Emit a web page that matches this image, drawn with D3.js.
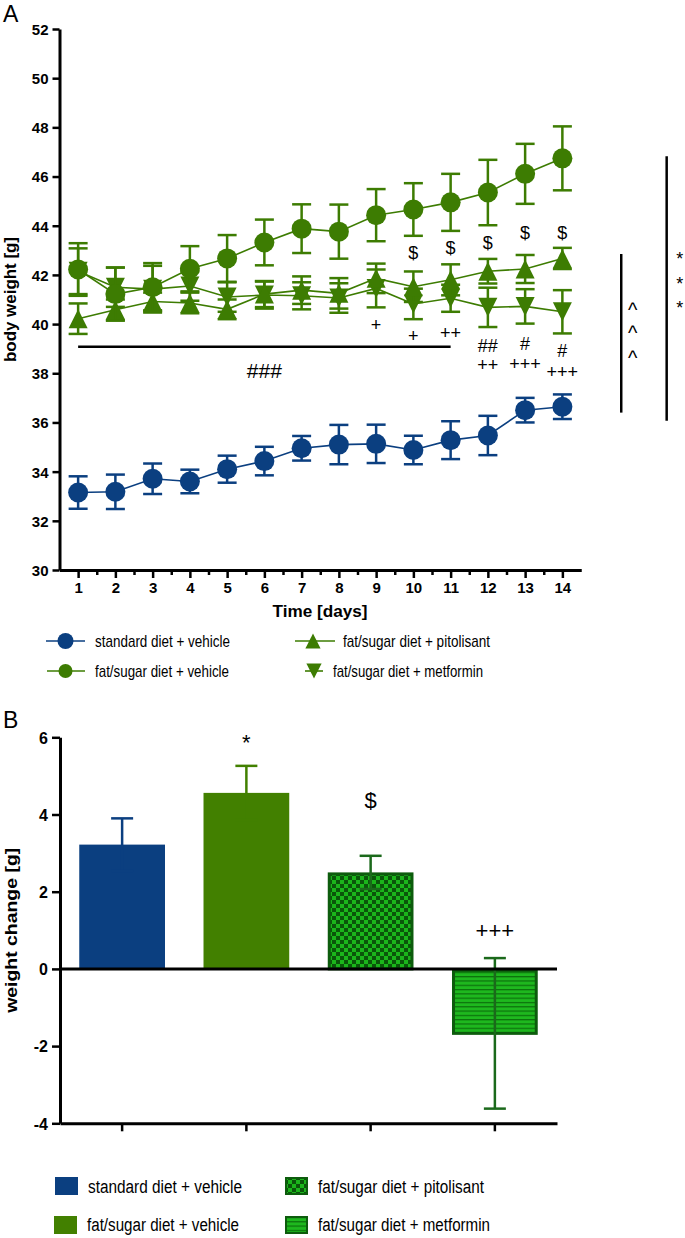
<!DOCTYPE html>
<html>
<head>
<meta charset="utf-8">
<script src="https://cdn.jsdelivr.net/npm/d3@7"></script>
<style>
  body { margin: 0; background: #fff; }
  svg { display: block; }
  text { font-family: "Liberation Sans", Arial, sans-serif; }
</style>
</head>
<body>
<svg id="chart" width="685" height="1238"></svg>
<script>
// ---- data, panel A (body weight, g) ----
const days = [1, 2, 3, 4, 5, 6, 7, 8, 9, 10, 11, 12, 13, 14];
const halfDays = [1.5, 2.5, 3.5, 4.5, 5.5, 6.5, 7.5, 8.5, 9.5, 10.5, 11.5, 12.5, 13.5];
const weightTicks = [30, 32, 34, 36, 38, 40, 42, 44, 46, 48, 50, 52];

const stdMean = [33.15, 33.18, 33.71, 33.6, 34.1, 34.43, 34.95, 35.1, 35.13, 34.88, 35.28, 35.47, 36.5, 36.64];
const stdErr  = [0.66, 0.7, 0.62, 0.48, 0.55, 0.58, 0.5, 0.8, 0.78, 0.58, 0.77, 0.8, 0.5, 0.5];
const fsMean  = [42.22, 41.22, 41.5, 42.25, 42.67, 43.32, 43.88, 43.76, 44.43, 44.66, 44.95, 45.35, 46.11, 46.74];
const fsErr   = [1.07, 1.08, 0.98, 0.92, 0.95, 0.93, 0.99, 1.1, 1.06, 1.07, 1.16, 1.33, 1.22, 1.3];
const pitMean = [40.22, 40.58, 40.92, 40.86, 40.6, 41.22, 41.38, 41.25, 41.86, 41.52, 41.8, 42.15, 42.24, 42.67];
const pitErr  = [0.62, 0.42, 0.36, 0.42, 0.4, 0.53, 0.56, 0.62, 0.6, 0.62, 0.63, 0.5, 0.57, 0.43];
const metMean = [42.15, 41.5, 41.42, 41.55, 41.1, 41.18, 41.15, 41.06, 41.45, 40.82, 41.05, 40.68, 40.72, 40.5];
const metErr  = [0.93, 0.8, 0.95, 0.6, 0.6, 0.55, 0.55, 0.6, 0.77, 0.62, 0.55, 0.8, 0.7, 0.88];

// significance marks in panel A: day, value position, symbol
const sigA = [
  {day: 9, v: 39.96, t: "+"},
  {day: 10, v: 42.89, t: "$"}, {day: 10, v: 39.51, t: "+"},
  {day: 11, v: 43.09, t: "$"}, {day: 11, v: 39.63, t: "++"},
  {day: 12, v: 43.29, t: "$"}, {day: 12, v: 39.1, t: "##"}, {day: 12, v: 38.33, t: "++"},
  {day: 13, v: 43.7, t: "$"}, {day: 13, v: 39.18, t: "#"}, {day: 13, v: 38.38, t: "+++"},
  {day: 14, v: 43.7, t: "$"}, {day: 14, v: 38.9, t: "#"}, {day: 14, v: 38.05, t: "+++"}
];

// ---- data, panel B (weight change, g) ----
const groups = ["standard diet + vehicle", "fat/sugar diet + vehicle",
                "fat/sugar diet + pitolisant", "fat/sugar diet + metformin"];
const changeMean = [3.22, 4.56, 2.5, -1.67];
const changeErr  = [0.68, 0.7, 0.43, 1.95];
const changeSig  = ["", "*", "$", "+++"];
const changeSigPos = [0, 5.93, 4.37, 1.0];
const changeTicks = [-4, -2, 0, 2, 4, 6];

const BLUE = "#0b3f80", GREEN = "#3d7c02", BARGREEN = "#428000";
const DKGREEN = "#0d5c0d", LTGREEN = "#1bb51b";

const svg = d3.select("#chart");

// patterns
const defs = svg.append("defs");
const chk = defs.append("pattern").attr("id", "checker")
  .attr("patternUnits", "userSpaceOnUse").attr("width", 8).attr("height", 8);
chk.append("rect").attr("width", 8).attr("height", 8).attr("fill", LTGREEN);
chk.append("rect").attr("width", 4).attr("height", 4).attr("fill", "#0a560a");
chk.append("rect").attr("x", 4).attr("y", 4).attr("width", 4).attr("height", 4).attr("fill", "#0a560a");
const stp = defs.append("pattern").attr("id", "stripes")
  .attr("patternUnits", "userSpaceOnUse").attr("width", 8).attr("height", 4.3);
stp.append("rect").attr("width", 8).attr("height", 4.3).attr("fill", "#1eb81e");
stp.append("rect").attr("width", 8).attr("height", 1.2).attr("fill", "#0c700c");

// ================= panel A =================
const x = d3.scaleLinear().domain([0.5, 14.5]).range([59.5, 581]);
const y = d3.scaleLinear().domain([30, 52]).range([570, 29]);

svg.append("text").attr("x", 3).attr("y", 22).attr("font-size", 23).text("A");

function styleAxis(g) {
  g.select(".domain").attr("stroke", "#000").attr("stroke-width", 3);
  g.selectAll(".tick line").attr("stroke", "#000").attr("stroke-width", 2.5);
  g.selectAll(".tick text").attr("font-family", "Liberation Sans, Arial, sans-serif")
    .attr("font-size", 15).attr("font-weight", "bold").attr("fill", "#000");
}

svg.append("g").attr("transform", "translate(0,570)")
  .call(d3.axisBottom(x).tickValues(halfDays).tickSize(5).tickSizeOuter(0).tickFormat(""))
  .call(styleAxis);
svg.append("g").attr("transform", "translate(0,570)")
  .call(d3.axisBottom(x).tickValues(days).tickSize(8).tickSizeOuter(0).tickPadding(4))
  .call(styleAxis);
svg.append("g").attr("transform", "translate(59.5,0)")
  .call(d3.axisLeft(y).tickValues(weightTicks).tickSize(7).tickSizeOuter(0).tickPadding(4))
  .call(styleAxis)
  .selectAll(".tick text").attr("dy", "0.36em");

svg.append("text").attr("x", 320).attr("y", 617).attr("text-anchor", "middle")
  .attr("font-size", 17).attr("font-weight", "bold").attr("textLength", 95)
  .attr("lengthAdjust", "spacingAndGlyphs").text("Time [days]");
svg.append("text").attr("transform", "translate(16," + y(41) + ") rotate(-90)")
  .attr("text-anchor", "middle").attr("font-size", 16).attr("font-weight", "bold")
  .attr("textLength", 125).attr("lengthAdjust", "spacingAndGlyphs").text("body weight [g]");

const triUp = "M0,-9.5L9.5,9.5L-9.5,9.5Z";
const triDown = "M0,9.5L9.5,-9.5L-9.5,-9.5Z";

function drawSeries(mean, err, color, shape) {
  const g = svg.append("g");
  const pts = days.map((d, i) => ({d: d, m: mean[i], e: err[i]}));
  g.append("path").datum(pts)
    .attr("fill", "none").attr("stroke", color).attr("stroke-width", 1.6)
    .attr("d", d3.line().x(p => x(p.d)).y(p => y(p.m)));
  const eb = g.selectAll(".eb").data(pts).enter().append("g")
    .attr("stroke", color).attr("stroke-width", 2.5);
  eb.append("line").attr("x1", p => x(p.d)).attr("x2", p => x(p.d))
    .attr("y1", p => y(p.m + p.e)).attr("y2", p => y(p.m - p.e));
  eb.append("line").attr("x1", p => x(p.d) - 9.5).attr("x2", p => x(p.d) + 9.5)
    .attr("y1", p => y(p.m + p.e)).attr("y2", p => y(p.m + p.e));
  eb.append("line").attr("x1", p => x(p.d) - 9.5).attr("x2", p => x(p.d) + 9.5)
    .attr("y1", p => y(p.m - p.e)).attr("y2", p => y(p.m - p.e));
  if (shape === "circle") {
    g.selectAll("circle").data(pts).enter().append("circle")
      .attr("cx", p => x(p.d)).attr("cy", p => y(p.m)).attr("r", 10).attr("fill", color);
  } else {
    g.selectAll(".mk").data(pts).enter().append("path")
      .attr("transform", p => "translate(" + x(p.d) + "," + y(p.m) + ")")
      .attr("d", shape === "up" ? triUp : triDown).attr("fill", color);
  }
}

drawSeries(metMean, metErr, GREEN, "down");
drawSeries(pitMean, pitErr, GREEN, "up");
drawSeries(fsMean, fsErr, GREEN, "circle");
drawSeries(stdMean, stdErr, BLUE, "circle");

// significance marks
svg.append("g").selectAll("text").data(sigA).enter().append("text")
  .attr("x", s => x(s.day)).attr("y", s => y(s.v))
  .attr("text-anchor", "middle").attr("dominant-baseline", "central")
  .attr("font-size", 18).text(s => s.t);

// ### bracket
svg.append("line").attr("x1", x(1)).attr("x2", x(11)).attr("y1", y(39.08)).attr("y2", y(39.08))
  .attr("stroke", "#000").attr("stroke-width", 2.5);
svg.append("text").attr("x", x(6)).attr("y", y(38.13)).attr("text-anchor", "middle")
  .attr("dominant-baseline", "central").attr("font-size", 21).text("###");

// vertical brackets on the right
svg.append("line").attr("x1", x(15.58)).attr("x2", x(15.58)).attr("y1", y(42.85)).attr("y2", y(36.4))
  .attr("stroke", "#000").attr("stroke-width", 2.5);
svg.append("g").selectAll("text").data([40.69, 39.76, 38.74]).enter().append("text")
  .attr("x", x(15.58) + 11.5).attr("y", v => y(v) + 10).attr("text-anchor", "middle")
  .attr("font-size", 20).text("^");
svg.append("line").attr("x1", x(16.8)).attr("x2", x(16.8)).attr("y1", y(46.83)).attr("y2", y(36.07))
  .attr("stroke", "#000").attr("stroke-width", 2.5);
svg.append("g").selectAll("text").data([42.8, 41.79, 40.81]).enter().append("text")
  .attr("x", x(16.8) + 13).attr("y", v => y(v) + 10).attr("text-anchor", "middle")
  .attr("font-size", 18).text("*");

// legend A
const legA = [
  {lx: 46, mx: 65.5, ly: 641, len: 39, color: BLUE, shape: "circle", r: 8, tx: 95, tw: 135},
  {lx: 47, mx: 65.5, ly: 671, len: 38, color: GREEN, shape: "circle", r: 7, tx: 95, tw: 134},
  {lx: 295, mx: 313, ly: 641, len: 40, color: GREEN, shape: "up", r: 7, tx: 343, tw: 147},
  {lx: 305, mx: 314, ly: 671, len: 18, color: GREEN, shape: "down", r: 7, tx: 333, tw: 150}
];
legA.forEach((l, i) => {
  const g = svg.append("g");
  g.append("line").attr("x1", l.lx).attr("x2", l.lx + l.len).attr("y1", l.ly).attr("y2", l.ly)
    .attr("stroke", l.color).attr("stroke-width", 1.6);
  if (l.shape === "circle") {
    g.append("circle").attr("cx", l.mx).attr("cy", l.ly).attr("r", l.r).attr("fill", l.color);
  } else {
    g.append("path").attr("transform", "translate(" + l.mx + "," + l.ly + ") scale(0.8)")
      .attr("d", l.shape === "up" ? triUp : triDown).attr("fill", l.color);
  }
  g.append("text").attr("x", l.tx).attr("y", l.ly).attr("dominant-baseline", "central")
    .attr("font-size", 17).attr("textLength", l.tw).attr("lengthAdjust", "spacingAndGlyphs")
    .text(groups[i]);
});

// ================= panel B =================
const xb = d3.scaleBand().domain(groups).range([60, 557]).paddingInner(0.31).paddingOuter(0.155);
const yb = d3.scaleLinear().domain([-4, 6]).range([1123.3, 737.3]);

svg.append("text").attr("x", 3).attr("y", 728).attr("font-size", 23).text("B");

const fills = [BLUE, BARGREEN, "url(#checker)", "url(#stripes)"];
const strokes = [null, null, DKGREEN, DKGREEN];
const errColors = [BLUE, BARGREEN, "#1b691b", "#1b691b"];

svg.append("g").selectAll("rect").data(groups).enter().append("rect")
  .attr("x", (g, i) => xb(g) + (strokes[i] ? 1.5 : 0))
  .attr("width", (g, i) => xb.bandwidth() - (strokes[i] ? 3 : 0))
  .attr("y", (g, i) => yb(Math.max(0, changeMean[i])) + (strokes[i] ? 1.5 : 0))
  .attr("height", (g, i) => Math.abs(yb(changeMean[i]) - yb(0)) - (strokes[i] ? 1.5 : 0))
  .attr("fill", (g, i) => fills[i])
  .attr("stroke", (g, i) => strokes[i] || "none").attr("stroke-width", 3);

const ebB = svg.append("g").selectAll("g").data(groups).enter().append("g")
  .attr("stroke", (g, i) => errColors[i]).attr("stroke-width", 2.5);
ebB.append("line").attr("x1", g => xb(g) + xb.bandwidth() / 2).attr("x2", g => xb(g) + xb.bandwidth() / 2)
  .attr("y1", (g, i) => yb(changeMean[i] + changeErr[i])).attr("y2", (g, i) => yb(changeMean[i] - changeErr[i]));
[1, -1].forEach(sgn => {
  ebB.append("line").attr("x1", g => xb(g) + xb.bandwidth() / 2 - 11).attr("x2", g => xb(g) + xb.bandwidth() / 2 + 11)
    .attr("y1", (g, i) => yb(changeMean[i] + sgn * changeErr[i]))
    .attr("y2", (g, i) => yb(changeMean[i] + sgn * changeErr[i]));
});

svg.append("g").selectAll("text").data(groups).enter().append("text")
  .attr("x", g => xb(g) + xb.bandwidth() / 2)
  .attr("y", (g, i) => yb(changeSigPos[i]) + (changeSig[i] === "*" ? 10 : 0))
  .attr("text-anchor", "middle")
  .attr("dominant-baseline", (g, i) => changeSig[i] === "*" ? "auto" : "central")
  .attr("font-size", 22).text((g, i) => changeSig[i]);

// zero line and axes
svg.append("line").attr("x1", 60).attr("x2", 557).attr("y1", yb(0)).attr("y2", yb(0))
  .attr("stroke", "#000").attr("stroke-width", 3);
svg.append("g").attr("transform", "translate(0," + yb(-4) + ")")
  .call(d3.axisBottom(xb).tickSize(8).tickSizeOuter(0).tickFormat(""))
  .call(styleAxis);
svg.append("g").attr("transform", "translate(60,0)")
  .call(d3.axisLeft(yb).tickValues(changeTicks).tickSize(8).tickSizeOuter(0).tickPadding(4)
    .tickFormat(d => String(d)))
  .call(styleAxis)
  .selectAll(".tick text").attr("font-size", 16).attr("dy", "0.36em");

svg.append("text").attr("transform", "translate(17," + yb(1) + ") rotate(-90)")
  .attr("text-anchor", "middle").attr("font-size", 17).attr("font-weight", "bold")
  .attr("textLength", 165).attr("lengthAdjust", "spacingAndGlyphs").text("weight change [g]");

// legend B
const legB = [
  {sx: 55, sy: 1177, ty: 1187, tx: 88, tw: 154},
  {sx: 54, sy: 1216, ty: 1225, tx: 87, tw: 152},
  {sx: 285, sy: 1177, ty: 1187, tx: 318, tw: 166},
  {sx: 285, sy: 1216, ty: 1225, tx: 318, tw: 172}
];
legB.forEach((l, i) => {
  svg.append("rect").attr("x", l.sx + (strokes[i] ? 1 : 0)).attr("y", l.sy + (strokes[i] ? 1 : 0))
    .attr("width", 23 - (strokes[i] ? 2 : 0)).attr("height", 18 - (strokes[i] ? 2 : 0))
    .attr("fill", fills[i]).attr("stroke", strokes[i] || "none").attr("stroke-width", 2);
  svg.append("text").attr("x", l.tx).attr("y", l.ty).attr("dominant-baseline", "central")
    .attr("font-size", 18).attr("textLength", l.tw).attr("lengthAdjust", "spacingAndGlyphs")
    .text(groups[i]);
});
</script>
</body>
</html>
